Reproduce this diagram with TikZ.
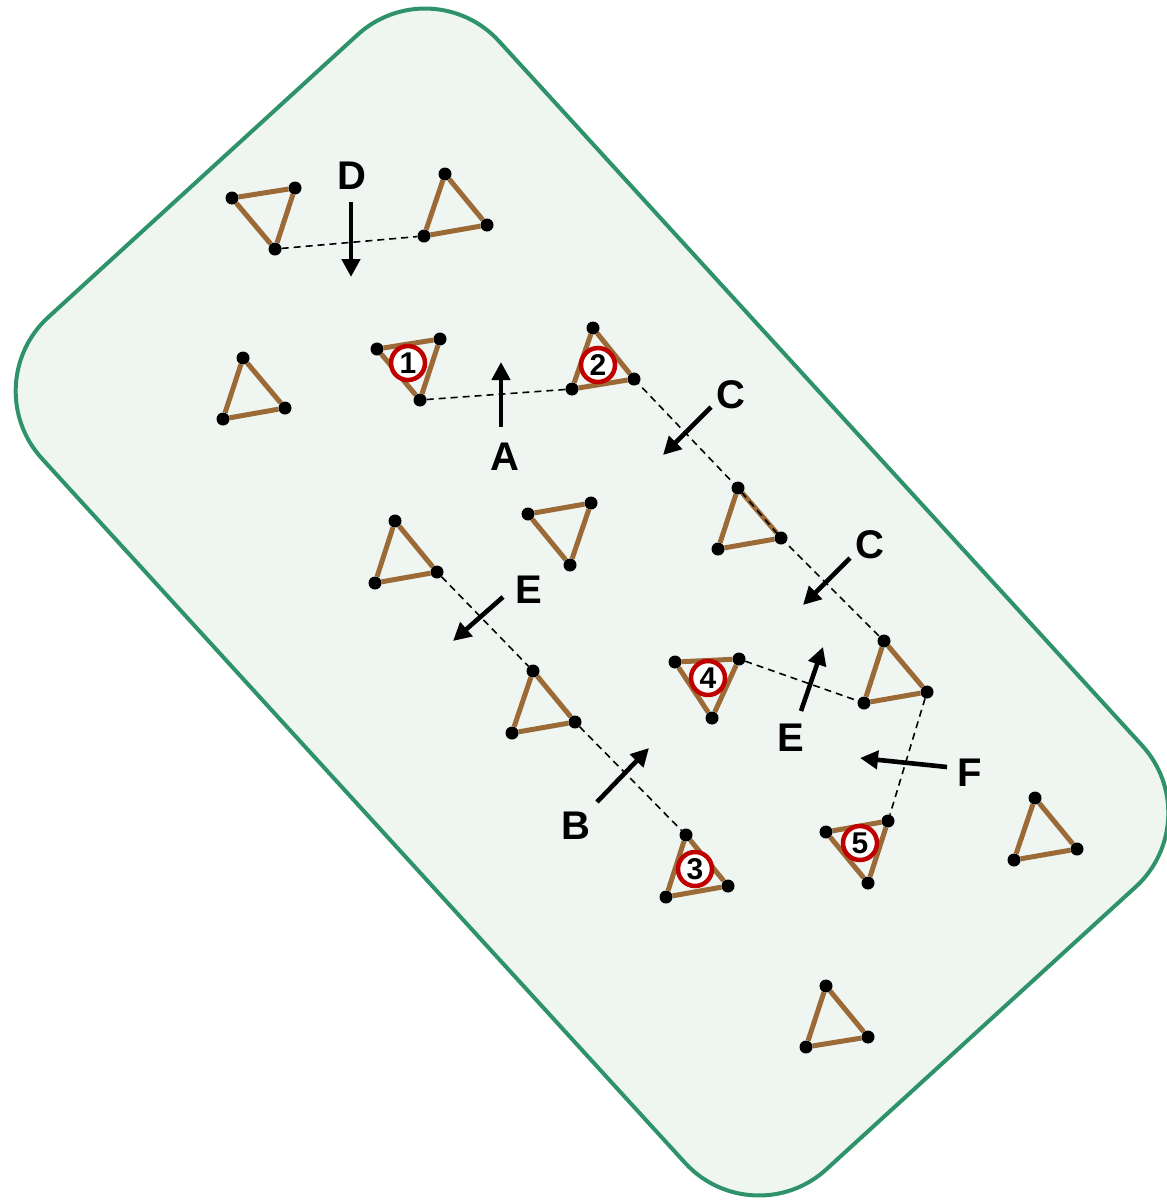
\documentclass[tikz,border=0pt]{standalone}
\usepackage{fontspec}
\setmainfont{Liberation Sans}
\usetikzlibrary{arrows.meta}
\definecolor{frameG}{RGB}{46,146,106}
\definecolor{fillG}{RGB}{239,246,241}
\definecolor{stick}{RGB}{155,106,54}
\definecolor{ringR}{RGB}{192,0,0}
\pgfdeclarelayer{back}
\pgfdeclarelayer{mid}
\pgfsetlayers{back,mid,main}
\tikzset{
  dot/.style={circle,fill=black,inner sep=0pt,minimum size=13pt},
  edge/.style={draw=stick,line width=5pt},
  link/.style={draw=black,line width=1.6pt,dash pattern=on 7pt off 5pt},
  ring/.style={circle,draw=ringR,line width=4.5pt,fill=white,inner sep=0pt,minimum size=34pt,
    font=\fontsize{30}{30}\selectfont\bfseries},
  arr/.style={line width=4.6pt,-{Triangle[length=18pt,width=18pt]}},
  lab/.style={inner sep=0pt,font=\fontsize{40}{40}\selectfont\bfseries},
  frame/.style={draw=frameG,line width=4pt,fill=fillG,rounded corners=100pt}
}
\newcommand\tri[4]{%
  \node[dot] (#1a) at #2 {};
  \node[dot] (#1b) at #3 {};
  \node[dot] (#1c) at #4 {};
  \begin{pgfonlayer}{mid}
    \draw[edge] (#1a) -- (#1b) -- (#1c) -- (#1a);
  \end{pgfonlayer}
}
\begin{document}
\begin{tikzpicture}[x=1pt,y=-1pt]
\useasboundingbox (0,0) rectangle (1167,1203);
\begin{pgfonlayer}{back}
  \begin{scope}[shift={(592,602)},rotate=-47.6]
    \path[frame] (-577,-309.5) rectangle (577,309.5);
  \end{scope}
\end{pgfonlayer}

% up-type triangles: apex, right, left
\tri{tB}{(445,174)}{(487,225)}{(424,236)}
\tri{tC}{(243,358)}{(285,408)}{(223,419)}
\tri{tE}{(593,328)}{(634,379)}{(572,389)}
\tri{tG}{(738,488)}{(781,538)}{(718,549)}
\tri{tH}{(395,521)}{(437,572)}{(375,583)}
\tri{tI}{(533,671)}{(575,722)}{(512,733)}
\tri{tK}{(884,641)}{(927,692)}{(864,703)}
\tri{tL}{(686,835)}{(728,886)}{(666,897)}
\tri{tN}{(1035,798)}{(1077,849)}{(1014,860)}
\tri{tO}{(826,986)}{(868,1037)}{(806,1047)}
% down-type triangles: left, right, bottom
\tri{tA}{(232,198)}{(295,188)}{(275,249)}
\tri{tD}{(377,349)}{(440,339)}{(420,400)}
\tri{tF}{(528,514)}{(591,503)}{(570,565)}
\tri{tJ}{(675,662)}{(739,659)}{(712,718)}
\tri{tM}{(826,832)}{(888,821)}{(868,883)}

\begin{pgfonlayer}{mid}
  \draw[link] (tAc) -- (tBc);
  \draw[link] (tDc) -- (tEc);
  \draw[link] (tEb.center) -- (tGa.center) -- (tGb.center) -- (tKa.center);
  \draw[link] (tHb) -- (tIa);
  \draw[link] (tIb) -- (tLa);
  \draw[link] (tJb) -- (tKc);
  \draw[link] (tKb) -- (tMb);
\end{pgfonlayer}

% numbered rings
\node[ring] (r1) at (408,363) {1};
\node[ring] (r2) at (598,365) {2};
\node[ring] (r3) at (695,869) {3};
\node[ring] (r4) at (708,678) {4};
\node[ring] (r5) at (860,843) {5};

% arrows
\coordinate (dT) at (351,202); \coordinate (dH) at (351,277);
\coordinate (aT) at (501,427); \coordinate (aH) at (501,362);
\coordinate (c1T) at (711,407); \coordinate (c1H) at (663,455);
\coordinate (c2T) at (850,558); \coordinate (c2H) at (803,605);
\coordinate (e1T) at (503,597); \coordinate (e1H) at (453,641);
\coordinate (bT) at (597,802); \coordinate (bH) at (649,748);
\coordinate (e2T) at (801,711); \coordinate (e2H) at (823,647);
\coordinate (fT) at (947,767); \coordinate (fH) at (860,758);
\draw[arr] (dT) -- (dH);
\draw[arr] (aT) -- (aH);
\draw[arr] (c1T) -- (c1H);
\draw[arr] (c2T) -- (c2H);
\draw[arr] (e1T) -- (e1H);
\draw[arr] (bT) -- (bH);
\draw[arr] (e2T) -- (e2H);
\draw[arr] (fT) -- (fH);

% labels
\node[lab] (lD) at (352,176) {D};
\node[lab] (lA) at (505,457) {A};
\node[lab] (lC1) at (731,395) {C};
\node[lab] (lC2) at (870,545) {C};
\node[lab] (lE1) at (529,590) {E};
\node[lab] (lB) at (576,826) {B};
\node[lab] (lE2) at (791,738) {E};
\node[lab] (lF) at (970,773) {F};
\end{tikzpicture}
\end{document}
